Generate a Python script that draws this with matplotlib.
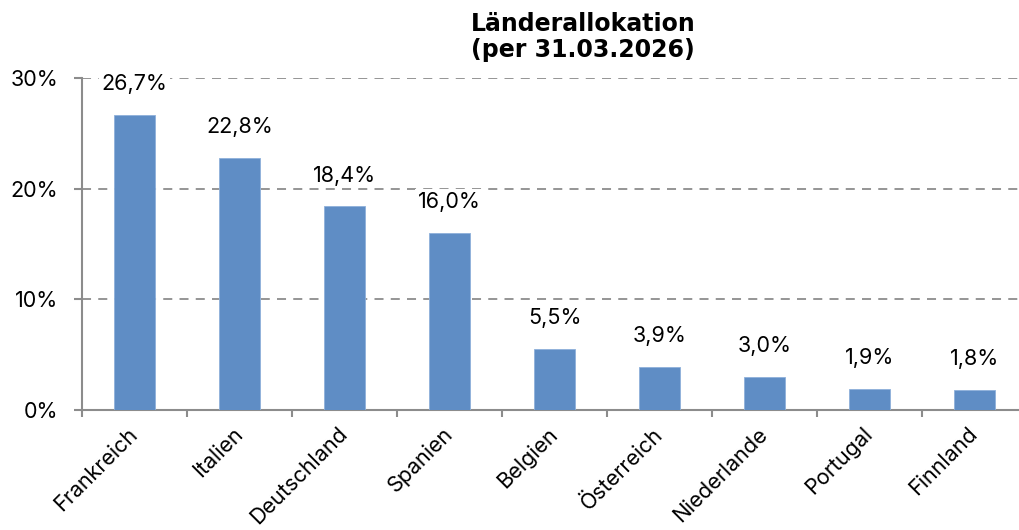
import matplotlib.pyplot as plt
from matplotlib.ticker import FixedLocator

laender = ["Frankreich", "Italien", "Deutschland", "Spanien", "Belgien",
           "Österreich", "Niederlande", "Portugal", "Finnland"]
anteile = [26.7, 22.8, 18.4, 16.0, 5.5, 3.9, 3.0, 1.9, 1.8]
y_ticks = [0, 10, 20, 30]
titel = "Länderallokation\n(per 31.03.2026)"

plt.rcParams["font.family"] = ["Inter", "DejaVu Sans"]

BAR = "#5f8dc5"
GREY = "#8c8c8c"

fig = plt.figure(figsize=(10.19, 5.30), dpi=100)
ax = fig.add_axes([82 / 1019, 1 - 410 / 530, 945 / 1019, 332 / 530])

x = list(range(len(laender)))
bars = ax.bar(x, anteile, width=0.39, color=BAR, edgecolor="#8eb0da",
              linewidth=0.6, zorder=3)

ax.set_xlim(-0.5, len(laender) - 0.5)
ax.set_ylim(0, 30)

ax.set_yticks(y_ticks)
ax.set_yticklabels([f"{t}%" for t in y_ticks], fontsize=15.5)
ax.yaxis.grid(True, color=GREY, linestyle=(0, (5, 4)), linewidth=1.3, zorder=0)
ax.set_axisbelow(True)

ax.set_xticks(x)
ax.set_xticklabels(laender, fontsize=15.5, rotation=45, ha="right",
                   va="center", rotation_mode="anchor")
ax.tick_params(axis="x", which="major", length=0, pad=15)
ax.xaxis.set_minor_locator(FixedLocator([i - 0.5 for i in range(len(laender) + 1)]))
ax.tick_params(axis="x", which="minor", length=5, width=1.5, color=GREY)
ax.tick_params(axis="y", length=6, width=1.5, color=GREY, pad=11)

for s in ["top", "right"]:
    ax.spines[s].set_visible(False)
for s in ["left", "bottom"]:
    ax.spines[s].set_color(GREY)
    ax.spines[s].set_linewidth(1.5)

for b, v in zip(bars, anteile):
    ax.annotate(f"{v:.1f}%".replace(".", ","),
                (b.get_x() + b.get_width() / 2, v),
                xytext=(0, 15), textcoords="offset points",
                ha="center", va="bottom", fontsize=15.5, zorder=4,
                bbox=dict(facecolor="white", edgecolor="none", pad=2))

fig.text(583 / 1019, 1 - 37 / 530, titel, ha="center", va="center",
         fontsize=17, fontweight="bold", linespacing=1.15,
         family="DejaVu Sans")

fig.savefig("out.png", dpi=100)
